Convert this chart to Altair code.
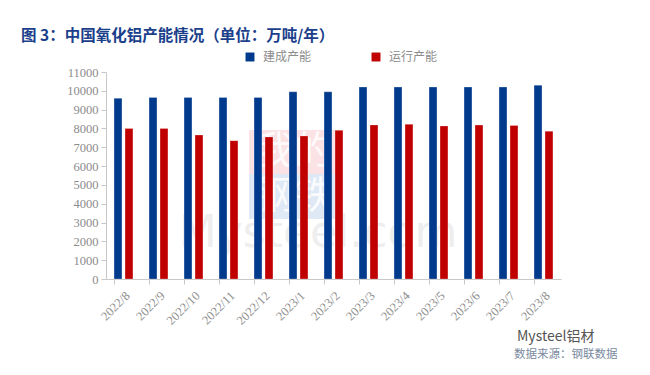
import altair as alt
import pandas as pd

months = ["2022/8", "2022/9", "2022/10", "2022/11", "2022/12", "2023/1", "2023/2",
          "2023/3", "2023/4", "2023/5", "2023/6", "2023/7", "2023/8"]
built = [9600, 9650, 9650, 9650, 9650, 9950, 9950, 10200, 10200, 10200, 10200, 10200, 10300]
running = [8000, 8000, 7650, 7350, 7550, 7600, 7900, 8180, 8220, 8130, 8180, 8160, 7850]
series = ["建成产能", "运行产能"]
colors = ["#003A8C", "#C00000"]

rows = []
for m, b, r in zip(months, built, running):
    rows.append({"month": m, "series": series[0], "value": b})
    rows.append({"month": m, "series": series[1], "value": r})
df = pd.DataFrame(rows)

serif = "Liberation Serif"
cjk = "Noto Sans CJK SC"

bars = alt.Chart(df).mark_bar(stroke="#ffffff", strokeWidth=0.5, strokeOpacity=0.5).encode(
    x=alt.X("month:N", sort=months, title=None,
            scale=alt.Scale(paddingInner=0.46, paddingOuter=0.23),
            axis=alt.Axis(labelAngle=-45, labelFont=serif, labelFontSize=12.5,
                          labelColor="#8c8c8c", domainColor="#c8c8c8", tickColor="#c8c8c8",
                          tickSize=5, bandPosition=0, labelPadding=5, grid=False)),
    xOffset=alt.XOffset("series:N", sort=series,
                        scale=alt.Scale(paddingInner=0.28, paddingOuter=0)),
    y=alt.Y("value:Q", title=None,
            scale=alt.Scale(domain=[0, 11000], nice=False),
            axis=alt.Axis(values=list(range(0, 11001, 1000)), format="d", labelFont=serif,
                          labelFontSize=12.5, labelColor="#8c8c8c", domainColor="#c8c8c8",
                          tickColor="#c8c8c8", tickSize=5, grid=False, labelPadding=3)),
    color=alt.Color("series:N", sort=series,
                    scale=alt.Scale(domain=series, range=colors),
                    legend=alt.Legend(title=None, orient="none", direction="horizontal",
                                      legendX=138, legendY=-21, symbolType="square",
                                      symbolSize=80, symbolStrokeWidth=0,
                                      labelFont=cjk, labelFontSize=12, labelColor="#8c8c8c",
                                      columnPadding=58, labelOffset=7)),
)

# watermark
wm_rect = alt.Chart(pd.DataFrame({"a": [0]})).mark_rect(color="#f4b6bd", opacity=0.4).encode(
    x=alt.value(143), x2=alt.value(234), y=alt.value(58), y2=alt.value(102))
wm_rect2 = alt.Chart(pd.DataFrame({"a": [0]})).mark_rect(color="#b9cfe8", opacity=0.45).encode(
    x=alt.value(143), x2=alt.value(234), y=alt.value(102), y2=alt.value(147))
wm_t1 = alt.Chart(pd.DataFrame({"t": ["我的"]})).mark_text(
    font=cjk, fontSize=38, color="#ffffff", opacity=0.85, align="center", baseline="middle"
).encode(text="t:N", x=alt.value(188), y=alt.value(80))
wm_t2 = alt.Chart(pd.DataFrame({"t": ["钢铁"]})).mark_text(
    font=cjk, fontSize=38, color="#ffffff", opacity=0.85, align="center", baseline="middle"
).encode(text="t:N", x=alt.value(188), y=alt.value(125))
wm_t3 = alt.Chart(pd.DataFrame({"t": ["Mysteel.com"]})).mark_text(
    font="DejaVu Sans", fontSize=44, color="#cfcfcf", opacity=0.35, align="center", baseline="middle"
).encode(text="t:N", x=alt.value(212), y=alt.value(162))

title = alt.Chart(pd.DataFrame({"t": ["图 3：中国氧化铝产能情况（单位：万吨/年）"]})).mark_text(
    font=cjk, fontSize=15.5, fontWeight="bold", color="#1B3F8B", align="left", baseline="middle"
).encode(text="t:N", x=alt.value(-85), y=alt.value(-36))

brand = alt.Chart(pd.DataFrame({"t": ["Mysteel铝材"]})).mark_text(
    font=cjk, fontSize=14, color="#555555", align="left", baseline="middle"
).encode(text="t:N", x=alt.value(411), y=alt.value(265))
source = alt.Chart(pd.DataFrame({"t": ["数据来源：钢联数据"]})).mark_text(
    font=cjk, fontSize=11.5, color="#7a8aa0", align="left", baseline="middle"
).encode(text="t:N", x=alt.value(408), y=alt.value(283))

chart = alt.layer(wm_rect, wm_rect2, wm_t1, wm_t2, wm_t3, bars,
                  title, brand, source).properties(
    width=455, height=207,
    padding={"left": 13, "top": 21, "right": 5, "bottom": 5},
    background="#ffffff",
).configure_view(strokeWidth=0, stroke=None)

chart.save("out.html", embed_options={"renderer": "svg", "actions": False})
